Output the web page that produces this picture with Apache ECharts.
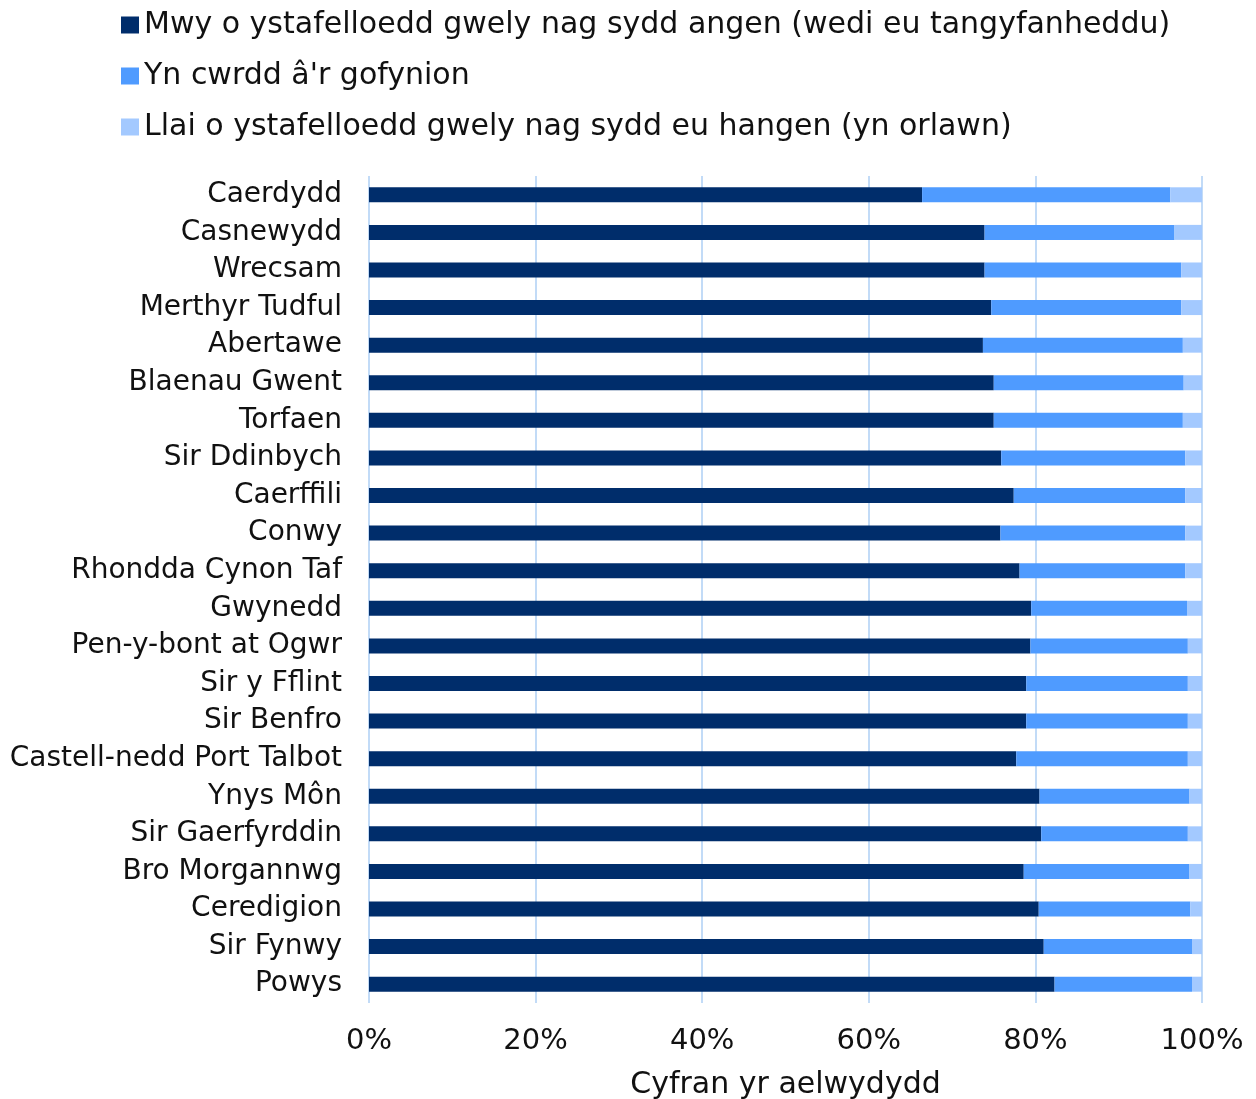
<!DOCTYPE html>
<html>
<head>
<meta charset="utf-8">
<script src="https://cdn.jsdelivr.net/npm/echarts@6/dist/echarts.min.js"></script>
<style>
html,body{margin:0;padding:0;background:#fff;}
#chart{width:1256px;height:1099px;}
</style>
</head>
<body>
<div id="chart"></div>
<script>
const categories = ["Caerdydd","Casnewydd","Wrecsam","Merthyr Tudful","Abertawe","Blaenau Gwent","Torfaen","Sir Ddinbych","Caerffili","Conwy","Rhondda Cynon Taf","Gwynedd","Pen-y-bont at Ogwr","Sir y Fflint","Sir Benfro","Castell-nedd Port Talbot","Ynys Môn","Sir Gaerfyrddin","Bro Morgannwg","Ceredigion","Sir Fynwy","Powys"];
const seriesNames = ["Mwy o ystafelloedd gwely nag sydd angen (wedi eu tangyfanheddu)","Yn cwrdd â'r gofynion","Llai o ystafelloedd gwely nag sydd eu hangen (yn orlawn)"];
const underOccupied = [66.4,73.9,73.9,74.7,73.7,75.0,75.0,75.9,77.4,75.8,78.1,79.5,79.4,78.9,78.9,77.7,80.5,80.7,78.6,80.4,81.0,82.3];
const meetsNeeds    = [29.8,22.8,23.6,22.8,24.0,22.8,22.7,22.1,20.6,22.2,19.9,18.7,18.9,19.4,19.4,20.6,18.0,17.6,19.9,18.2,17.8,16.5];
const overcrowded   = [3.8,3.3,2.5,2.5,2.3,2.2,2.3,2.0,2.0,2.0,2.0,1.8,1.7,1.7,1.7,1.7,1.5,1.7,1.5,1.4,1.2,1.2];
const xTicks = [0,20,40,60,80,100];
const axisTitle = "Cyfran yr aelwydydd";
const colors = ["#002d6b","#4f9bff","#a3c9ff"];

const chart = echarts.init(document.getElementById('chart'), null, {renderer:'canvas'});
const font = "DejaVu Sans, Liberation Sans, Arial, sans-serif";
const dataSets = [underOccupied, meetsNeeds, overcrowded];
chart.setOption({
  animation:false,
  color: colors,
  textStyle:{fontFamily:font},
  legend:{
    orient:'vertical', left:116, top:5,
    itemWidth:18, itemHeight:17, itemGap:21,
    icon:'rect',
    textStyle:{fontSize:30, color:'#111', lineHeight:30, fontFamily:font},
    data: seriesNames
  },
  grid:{left:369, right:54, top:176, bottom:96, containLabel:false, outerBoundsMode:'none'},
  xAxis:{
    type:'value', min:0, max:100, interval:20,
    axisLine:{show:false}, axisTick:{show:false},
    splitLine:{show:true, lineStyle:{color:'#c2dbf7', width:2}},
    axisLabel:{formatter:'{value}%', fontSize:29, color:'#111', margin:24, fontFamily:font,
      customValues: xTicks},
    name: axisTitle, nameLocation:'middle', nameGap:67,
    nameTextStyle:{fontSize:30, color:'#111', fontFamily:font}
  },
  yAxis:{
    type:'category', data:categories, inverse:true,
    axisLine:{show:false}, axisTick:{show:false},
    axisLabel:{fontSize:28, color:'#111', margin:27, interval:0, fontFamily:font, padding:[4,0,0,0]}
  },
  series: seriesNames.map((n,i)=>({
    name:n, type:'bar', stack:'total', barWidth:15,
    data: dataSets[i],
    itemStyle:{color:colors[i]}
  }))
});
</script>
</body>
</html>
